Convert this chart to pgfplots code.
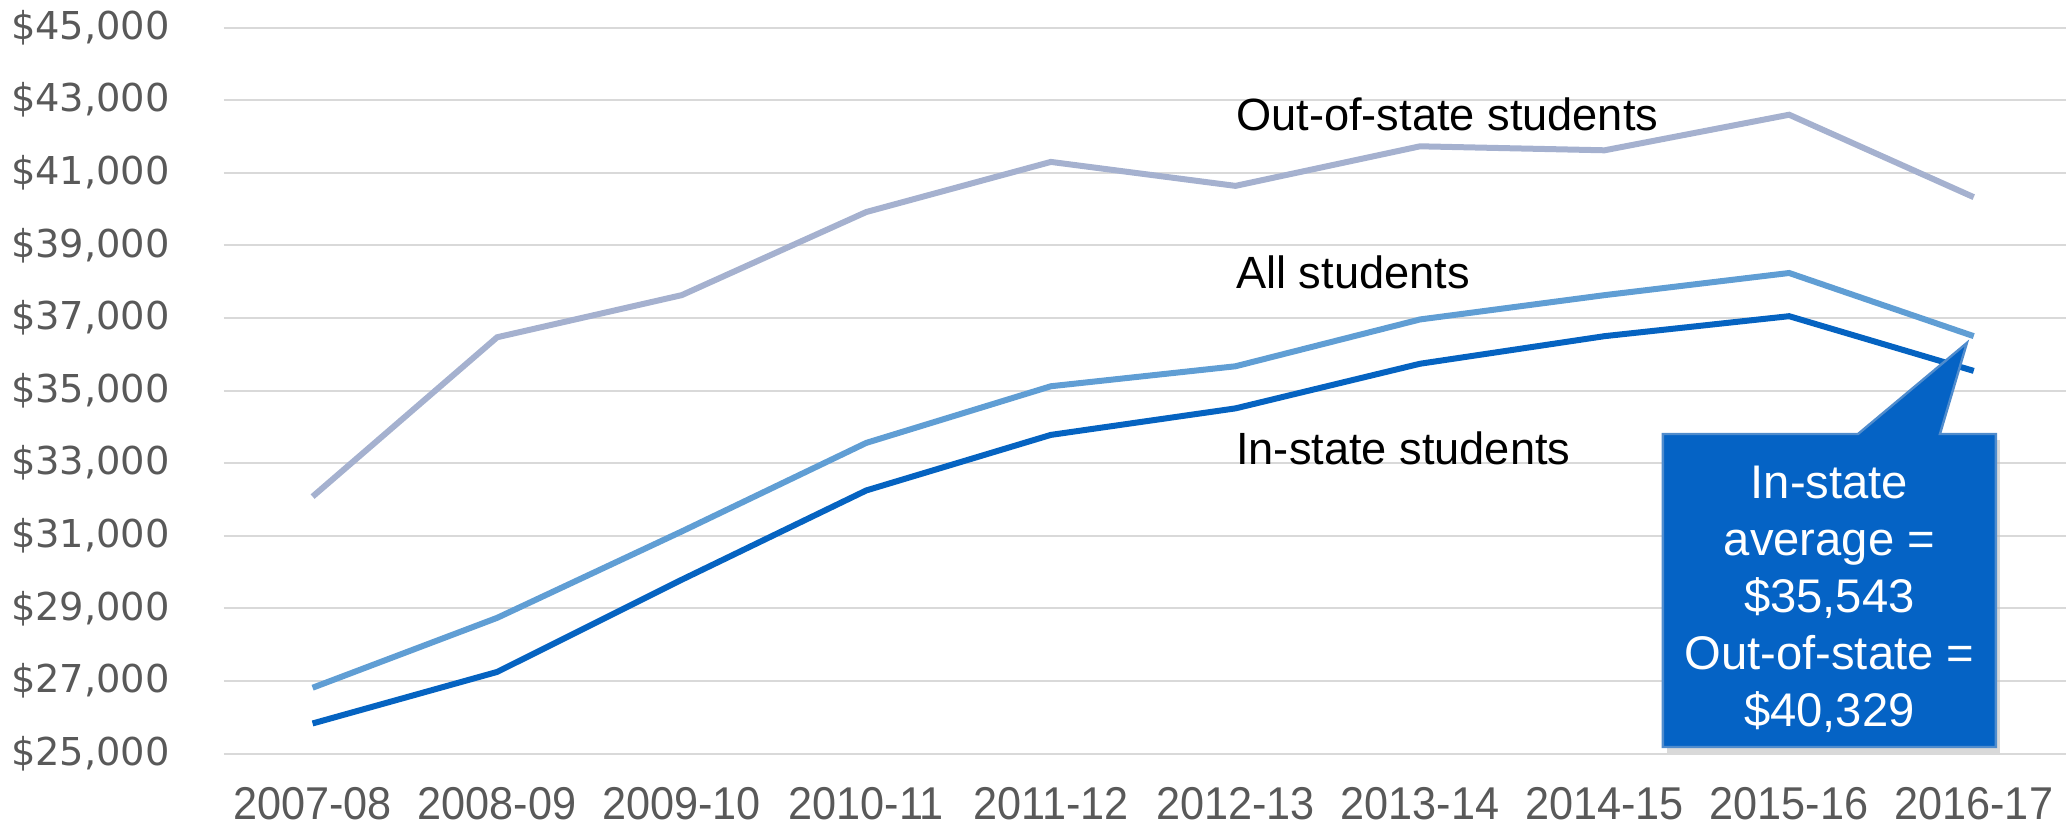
\documentclass[border=0pt]{standalone}
\usepackage{pgfplots}
\pgfplotsset{compat=1.18}
\usepackage{fontspec}
\setmainfont{Liberation Sans}
\newfontfamily\dejavu{DejaVu Sans}
\definecolor{outcol}{RGB}{165,177,207}
\definecolor{allcol}{RGB}{96,158,212}
\definecolor{incol}{RGB}{5,99,193}
\definecolor{boxcol}{RGB}{5,99,197}
\definecolor{tickgray}{RGB}{89,89,89}
\definecolor{gridgray}{RGB}{217,217,217}
\newcommand{\xl}[1]{\scalebox{0.94}[1]{#1}}
\begin{document}
\begin{tikzpicture}
\path[use as bounding box] (-56pt,-18pt) rectangle (460.5pt,188.4pt);
\begin{axis}[
  at={(0,0)}, anchor=south west,
  scale only axis,
  width=460.5pt, height=181.5pt,
  xmin=-0.48, xmax=9.5,
  ymin=25000, ymax=45000,
  clip=false,
  axis line style={draw=none},
  major tick length=0pt,
  xtick={0,...,9},
  xticklabels={\xl{2007-08},\xl{2008-09},\xl{2009-10},\xl{2010-11},\xl{2011-12},\xl{2012-13},\xl{2013-14},\xl{2014-15},\xl{2015-16},\xl{2016-17}},
  xticklabel style={font=\fontsize{11.5}{13}\selectfont, text=tickgray, inner sep=0pt, anchor=north, yshift=-8.2pt},
  ytick={25000,27000,...,45000},
  scaled y ticks=false,
  yticklabel={\dejavu\$\pgfmathprintnumber[fixed,1000 sep={,},assume math mode=true]{\tick}},
  yticklabel style={font=\fontsize{9.6}{11}\selectfont, text=tickgray, anchor=east, xshift=-10pt},
  ymajorgrids,
  grid style={gridgray, line width=0.5pt},
]
\addplot[outcol, line width=1.5pt] coordinates {
(0,32080) (1,36470) (2,37630) (3,39920) (4,41300) (5,40640) (6,41730) (7,41620) (8,42600) (9,40329)};
\addplot[allcol, line width=1.5pt] coordinates {
(0,26815) (1,28740) (2,31120) (3,33560) (4,35120) (5,35670) (6,36960) (7,37630) (8,38240) (9,36500)};
\addplot[incol, line width=1.5pt] coordinates {
(0,25830) (1,27250) (2,29790) (3,32250) (4,33780) (5,34510) (6,35740) (7,36500) (8,37050) (9,35543)};

\node[anchor=west, inner sep=0pt, font=\fontsize{11.3}{13}\selectfont] at (axis cs:5.0,42600) {Out-of-state students};
\node[anchor=west, inner sep=0pt, font=\fontsize{11.3}{13}\selectfont] at (axis cs:5.0,38250) {All students};
\node[anchor=west, inner sep=0pt, font=\fontsize{11.3}{13}\selectfont] at (axis cs:5.0,33420) {In-state students};

% callout shadow
\fill[black!25, opacity=0.6, xshift=1pt, yshift=-1.5pt] (axis cs:7.316,33805) -- (axis cs:9.12,33805) -- (axis cs:9.12,25182) -- (axis cs:7.316,25182) -- cycle;
% callout
\filldraw[fill=boxcol, draw={rgb,255:red,80;green,140;blue,205}, line width=0.6pt]
 (axis cs:7.316,33805) -- (axis cs:8.373,33805) -- (axis cs:8.963,36314) -- (axis cs:8.817,33805) -- (axis cs:9.12,33805) -- (axis cs:9.12,25182) -- (axis cs:7.316,25182) -- cycle;
\node[align=center, text=white, font=\fontsize{11.8}{14.2}\selectfont] at (axis cs:8.218,29250) {In-state\\average =\\\$35,543\\Out-of-state =\\\$40,329};
\end{axis}
\end{tikzpicture}
\end{document}
